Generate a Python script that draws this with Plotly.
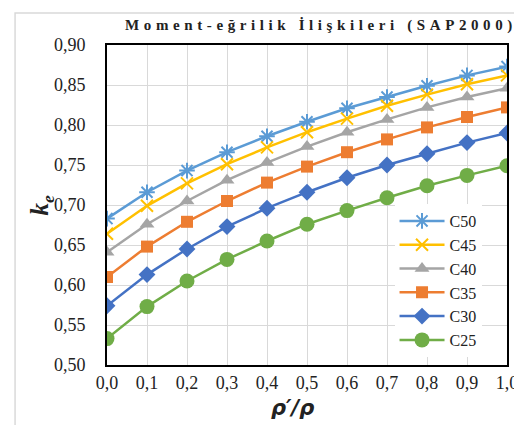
import plotly.graph_objects as go

x_vals = [0.0, 0.1, 0.2, 0.3, 0.4, 0.5, 0.6, 0.7, 0.8, 0.9, 1.0]
series_names = ["C50", "C45", "C40", "C35", "C30", "C25"]
c50 = [0.683, 0.716, 0.743, 0.766, 0.786, 0.804, 0.821, 0.835, 0.849, 0.862, 0.873]
c45 = [0.664, 0.699, 0.727, 0.751, 0.772, 0.791, 0.808, 0.824, 0.838, 0.851, 0.862]
c40 = [0.641, 0.676, 0.705, 0.731, 0.753, 0.773, 0.791, 0.807, 0.822, 0.835, 0.846]
c35 = [0.610, 0.648, 0.679, 0.705, 0.728, 0.748, 0.766, 0.782, 0.797, 0.810, 0.822]
c30 = [0.574, 0.613, 0.645, 0.673, 0.696, 0.716, 0.734, 0.750, 0.764, 0.778, 0.790]
c25 = [0.533, 0.573, 0.605, 0.632, 0.655, 0.676, 0.693, 0.709, 0.724, 0.737, 0.749]
series_values = [c50, c45, c40, c35, c30, c25]

colors = ["#5B9BD5", "#FFC000", "#A5A5A5", "#ED7D31", "#4472C4", "#70AD47"]
symbols = ["asterisk-open", "x-thin-open", "triangle-up", "square", "diamond", "circle"]
sizes = [13, 12, 13, 12, 13, 15]

SERIF = "Liberation Serif"

fig = go.Figure()
for name, vals, col, sym, sz in zip(series_names, series_values, colors, symbols, sizes):
    fig.add_trace(go.Scatter(
        x=x_vals, y=vals, name=name, mode="lines+markers",
        line=dict(color=col, width=2.5),
        marker=dict(symbol=sym, size=sz, color=col, line=dict(color=col, width=2 if "open" in sym else 0)),
    ))

L, R, T, B = 99, 14, 37, 68
W, H = 522, 425
pw, ph = W - L - R, H - T - B

fig.update_layout(
    width=W, height=H,
    margin=dict(l=L, r=R, t=T, b=B),
    paper_bgcolor="white", plot_bgcolor="white",
    separators=", ",
    font=dict(family=SERIF, size=18, color="#222222"),
    title=dict(text="<b>Moment-eğrilik İlişkileri (SAP2000)</b>",
               x=(313) / W, xanchor="center", y=1 - 17 / H, yanchor="middle",
               font=dict(family=SERIF, size=15, color="#222222")),
    showlegend=True,
    legend=dict(x=(393 - L) / pw, xanchor="left", y=1 - (196 - T) / ph, yanchor="top",
                bgcolor="white", borderwidth=0,
                font=dict(family=SERIF, size=16, color="#222222"),
                itemwidth=45, tracegroupgap=0),
    shapes=[dict(type="rect", xref="paper", yref="paper",
                 x0=(5 - L) / pw, x1=(517 - L) / pw,
                 y0=1 - (420 - T) / ph, y1=1 - (5 - T) / ph,
                 line=dict(color="#D9D9D9", width=1.5), layer="below")],
    annotations=[
        dict(text="<b><i>ρ′/ρ</i></b>", xref="paper", yref="paper",
             x=(289 - L) / pw, y=1 - (400 - T) / ph, xanchor="center", yanchor="middle",
             showarrow=False, font=dict(family="DejaVu Sans", size=21, color="#222222")),
        dict(text="<b><i>k<sub>e</sub></i></b>", xref="paper", yref="paper",
             x=(32 - L) / pw, y=1 - (197 - T) / ph, xanchor="center", yanchor="middle",
             textangle=-90,
             showarrow=False, font=dict(family=SERIF, size=25, color="#222222")),
    ],
)

fig.update_xaxes(
    range=[0, 1], dtick=0.1, tickformat=".1f",
    showgrid=True, gridcolor="#D9D9D9", gridwidth=1,
    showline=True, linecolor="black", linewidth=2, mirror=True,
    zeroline=False, ticks="", ticklen=0, ticklabelstandoff=0,
    tickfont=dict(family=SERIF, size=18, color="#222222"),
)
fig.update_yaxes(
    range=[0.5, 0.9], dtick=0.05, tickformat=".2f",
    showgrid=True, gridcolor="#D9D9D9", gridwidth=1,
    showline=True, linecolor="black", linewidth=2, mirror=True,
    zeroline=False, ticks="", ticklen=0, ticklabelstandoff=16,
    tickfont=dict(family=SERIF, size=18, color="#222222"),
)

post = """
var t = document.querySelector('.gtitle');
if (t) { t.style.letterSpacing = '4.6px'; }
"""
fig.write_html("out.html", post_script=post)
